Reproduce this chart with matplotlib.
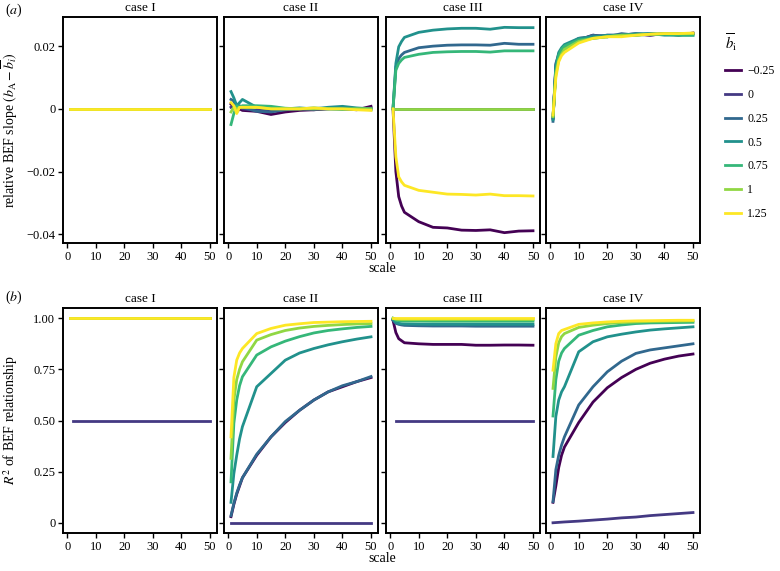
import numpy as np
import matplotlib
matplotlib.use("Agg")
import matplotlib.pyplot as plt
from matplotlib.lines import Line2D

plt.rcParams["font.family"] = ["Liberation Serif", "DejaVu Serif"]
plt.rcParams["mathtext.fontset"] = "stix"

# -----------------------------------------------------------------------------
# data
# -----------------------------------------------------------------------------
scale = [1, 2, 3, 4, 5, 10, 15, 20, 25, 30, 35, 40, 45, 50]
b_levels = [-0.25, 0, 0.25, 0.5, 0.75, 1, 1.25]
b_labels = ["\u22120.25", "0", "0.25", "0.5", "0.75", "1", "1.25"]
cases = ["case I", "case II", "case III", "case IV"]
nan = np.nan

# (a) relative BEF slope, values x 1e-3, one list per b level
slope_case1 = [[0.0] * 14 for _ in b_levels]
slope_case2 = [
    [1.5, 0.5, -1.0, 0.0, -0.5, -0.8, -1.8, -1.0, -0.5, -0.3, 0.0, 0.0, -0.3, 0.8],
    [0.5, 1.0, 0.5, 0.8, 0.0, -0.5, -0.5, -0.3, 0.0, -0.3, 0.2, 0.0, 0.0, 0.0],
    [3.0, 2.5, -0.5, 1.0, 0.5, -0.8, -1.0, -0.3, 0.0, 0.0, 0.0, 0.5, 0.0, 0.2],
    [5.5, 3.5, 1.0, 2.0, 3.0, 0.5, 0.5, 0.0, 0.3, 0.0, 0.5, 0.8, 0.3, 0.0],
    [-5.0, -1.5, 1.0, 0.5, 1.0, 1.0, 0.8, 0.2, 0.0, 0.3, 0.0, -0.2, 0.0, -0.3],
    [-1.0, 0.5, 0.0, 0.5, 0.5, 0.5, 0.0, 0.0, 0.0, 0.0, 0.0, 0.0, 0.0, 0.0],
    [2.0, 1.0, -1.5, 0.5, 0.5, 0.5, 0.0, 0.0, 0.0, 0.3, 0.0, 0.0, -0.3, -0.5],
]
slope_case3 = [
    [0, -20, -28, -31, -33, -36, -37.8, -38, -38.7, -38.8, -38.6, -39.5, -39, -38.9],
    [0.0] * 14,
    [0, 13.4, 16, 17.2, 18, 19.5, 20, 20.3, 20.4, 20.4, 20.3, 20.9, 20.6, 20.6],
    [0, 14.5, 19.8, 21.5, 22.8, 24.4, 25.1, 25.5, 25.7, 25.7, 25.4, 26, 25.9, 25.9],
    [0, 12.3, 14.5, 15.6, 16.4, 17.4, 18, 18.2, 18.3, 18.3, 18.1, 18.5, 18.5, 18.5],
    [0.0] * 14,
    [0, -15.3, -21.7, -23.3, -24.4, -26, -26.6, -27.2, -27.3, -27.5, -27.2, -27.7, -27.7, -27.8],
]
slope_case4 = [
    [-3.0, 13.0, 16.5, 18.0, 19.0, 22.0, 23.5, 23.0, 23.5, 23.8, 23.5, 24.0, 23.5, 24.2],
    [-3.0, 14.0, 17.0, 18.5, 19.5, 22.5, 23.0, 23.5, 23.5, 24.0, 23.5, 24.0, 24.0, 24.0],
    [-4.0, 14.5, 17.5, 19.0, 20.0, 22.0, 23.5, 23.0, 24.0, 23.5, 24.0, 23.8, 24.0, 24.0],
    [-3.5, 13.5, 18.0, 19.5, 20.5, 22.5, 23.0, 23.5, 23.5, 24.0, 24.0, 23.5, 23.5, 23.5],
    [-2.5, 12.0, 17.0, 19.0, 20.0, 22.0, 22.5, 23.0, 23.5, 23.5, 23.8, 23.8, 23.5, 23.5],
    [-2.5, 11.0, 15.5, 17.5, 19.0, 21.5, 22.5, 23.0, 23.5, 23.5, 23.8, 24.0, 24.0, 24.0],
    [-2.0, 10.0, 15.0, 17.0, 18.0, 21.0, 22.5, 23.0, 23.0, 23.5, 23.8, 24.0, 24.0, 24.2],
]

# (b) R^2 of BEF relationship
r2_case1 = [[1.0] * 14 for _ in b_levels]
r2_case1[1] = [nan] + [0.5] * 13
r2_case2 = [
    [0.03, 0.09, 0.14, 0.18, 0.22, 0.33, 0.42, 0.49, 0.55, 0.60, 0.64, 0.665, 0.69, 0.71],
    [0.0] * 14,
    [0.035, 0.095, 0.145, 0.185, 0.22, 0.335, 0.42, 0.495, 0.55, 0.60, 0.64, 0.67, 0.69, 0.715],
    [0.10, 0.24, 0.33, 0.41, 0.47, 0.665, 0.73, 0.795, 0.83, 0.852, 0.87, 0.885, 0.898, 0.909],
    [0.20, 0.486, 0.60, 0.67, 0.714, 0.82, 0.86, 0.888, 0.91, 0.928, 0.94, 0.948, 0.955, 0.96],
    [0.315, 0.60, 0.70, 0.75, 0.787, 0.893, 0.92, 0.94, 0.952, 0.96, 0.965, 0.969, 0.972, 0.974],
    [0.42, 0.71, 0.795, 0.83, 0.852, 0.925, 0.95, 0.966, 0.973, 0.979, 0.981, 0.983, 0.984, 0.985],
]
r2_case3 = [
    [0.99, 0.93, 0.90, 0.89, 0.88, 0.875, 0.872, 0.872, 0.872, 0.868, 0.868, 0.869, 0.869, 0.868],
    [nan] + [0.5] * 13,
    [0.99, 0.975, 0.97, 0.967, 0.965, 0.963, 0.962, 0.962, 0.962, 0.961, 0.961, 0.961, 0.961, 0.961],
    [0.995, 0.98, 0.975, 0.973, 0.972, 0.971, 0.97, 0.97, 0.97, 0.97, 0.97, 0.97, 0.97, 0.97],
    [1.0, 0.99, 0.988, 0.987, 0.986, 0.986, 0.985, 0.985, 0.985, 0.985, 0.985, 0.985, 0.985, 0.985],
    [1.0, 0.995, 0.994, 0.993, 0.993, 0.993, 0.993, 0.993, 0.993, 0.993, 0.993, 0.993, 0.993, 0.993],
    [1.0] * 14,
]
r2_case4 = [
    [0.10, 0.18, 0.27, 0.33, 0.37, 0.49, 0.59, 0.66, 0.71, 0.75, 0.78, 0.80, 0.815, 0.825],
    [0.0, 0.001, 0.002, 0.003, 0.004, 0.008, 0.013, 0.018, 0.024, 0.028, 0.035, 0.04, 0.045, 0.05],
    [0.104, 0.26, 0.33, 0.38, 0.42, 0.576, 0.665, 0.738, 0.79, 0.828, 0.845, 0.855, 0.865, 0.875],
    [0.324, 0.52, 0.60, 0.64, 0.665, 0.836, 0.885, 0.909, 0.922, 0.933, 0.942, 0.948, 0.953, 0.958],
    [0.522, 0.70, 0.79, 0.83, 0.852, 0.917, 0.94, 0.958, 0.967, 0.974, 0.977, 0.978, 0.979, 0.98],
    [0.657, 0.81, 0.88, 0.91, 0.925, 0.955, 0.966, 0.974, 0.979, 0.982, 0.984, 0.985, 0.986, 0.987],
    [0.746, 0.876, 0.925, 0.94, 0.945, 0.97, 0.977, 0.982, 0.985, 0.987, 0.988, 0.989, 0.99, 0.99],
]

slopes = [slope_case1, slope_case2, slope_case3, slope_case4]
r2s = [r2_case1, r2_case2, r2_case3, r2_case4]

colors = plt.cm.viridis(np.linspace(0, 1, len(b_levels)))

# -----------------------------------------------------------------------------
# figure
# -----------------------------------------------------------------------------
fig = plt.figure(figsize=(7.8, 5.71), dpi=100)

lefts = [63 / 780, 224 / 780, 386 / 780, 546 / 780]
w = 154 / 780
top_row = [fig.add_axes([l, 1 - 243 / 571, w, 226 / 571]) for l in lefts]
bot_row = [fig.add_axes([l, 1 - 533 / 571, w, 225 / 571]) for l in lefts]


def style_axis(ax, title):
    ax.set_xlim(1 - 2.45, 50 + 2.45)
    ax.set_xticks([0, 10, 20, 30, 40, 50])
    ax.set_title(title, fontsize=9.5, pad=4)
    ax.tick_params(direction="out", length=3.5, width=1, labelsize=9, pad=2)
    for s in ax.spines.values():
        s.set_linewidth(1.4)


for i, ax in enumerate(top_row):
    for j in range(len(b_levels)):
        ax.plot(scale, np.array(slopes[i][j]) / 1000, color=colors[j], lw=2.0)
    style_axis(ax, cases[i])
    ax.set_ylim(-0.0428, 0.0293)
    ax.set_yticks([-0.04, -0.02, 0, 0.02])
    if i == 0:
        ax.set_yticklabels(["\u22120.04", "\u22120.02", "0", "0.02"])
    else:
        ax.set_yticklabels([])

for i, ax in enumerate(bot_row):
    for j in range(len(b_levels)):
        ax.plot(scale, r2s[i][j], color=colors[j], lw=2.0)
    style_axis(ax, cases[i])
    ax.set_ylim(-0.05, 1.05)
    ax.set_yticks([0, 0.25, 0.5, 0.75, 1.0])
    if i == 0:
        ax.set_yticklabels(["0", "0.25", "0.50", "0.75", "1.00"])
    else:
        ax.set_yticklabels([])

top_row[0].set_ylabel(r"relative BEF slope $(b_{\rm A} - \overline{b}_i)$", fontsize=10)
top_row[0].yaxis.set_label_coords(-0.28, 0.5)
bot_row[0].set_ylabel(r"$R^2$ of BEF relationship", fontsize=10)
bot_row[0].yaxis.set_label_coords(-0.28, 0.5)

fig.text(382 / 780, 1 - 268 / 571, "scale", ha="center", va="center", fontsize=10)
fig.text(382 / 780, 1 - 559 / 571, "scale", ha="center", va="center", fontsize=10)
fig.text(5 / 780, 1 - 10 / 571, r"($a$)", ha="left", va="center", fontsize=10)
fig.text(5 / 780, 1 - 297 / 571, r"($b$)", ha="left", va="center", fontsize=10)

handles = [Line2D([], [], color=c, lw=2.0) for c in colors]
fig.legend(handles, b_labels, loc="upper left", bbox_to_anchor=(714 / 780, 1 - 21 / 571),
           frameon=False, fontsize=8.5, title=r"$\overline{b}_{\rm i}$", title_fontsize=10.5,
           handlelength=1.4, handletextpad=0.5, labelspacing=1.0, alignment="left")

fig.savefig("out.png", dpi=100)
